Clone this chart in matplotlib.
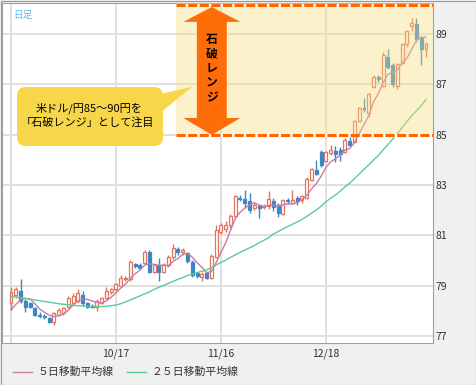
import matplotlib
matplotlib.use('Agg')
import matplotlib.pyplot as plt
import matplotlib.transforms as mtransforms
from matplotlib.patches import Rectangle, Polygon, FancyBboxPatch
from matplotlib.lines import Line2D
import numpy as np
import pandas as pd

plt.rcParams['font.family'] = ['Noto Sans CJK JP', 'DejaVu Sans']

# USD/JPY daily candles, 9/17 .. mid January
open_ = [78.30, 78.62, 78.80, 78.37, 78.30, 78.10, 77.84, 77.80, 77.72, 77.57,
         77.84, 77.90, 78.17, 78.30, 78.40, 78.63, 78.30, 78.18, 78.17, 78.32,
         78.50, 78.75, 78.85, 79.00, 79.25, 79.25, 79.85, 79.82, 79.90, 80.35,
         79.56, 79.82, 79.56, 79.82, 80.12, 80.45, 80.35, 80.30, 79.95, 79.50,
         79.35, 79.50, 79.30, 80.15, 81.15, 81.25, 81.40, 81.75, 82.50, 82.45,
         82.35, 82.10, 82.15, 82.13, 82.15, 82.35, 82.20, 81.85, 82.42, 82.30,
         82.50, 82.40, 82.50, 83.20, 83.60, 84.30, 83.95, 84.25, 84.35, 84.40,
         84.30, 84.75, 84.70, 85.55, 86.05, 85.85, 86.90, 87.30, 86.95, 88.10,
         87.75, 86.95, 87.85, 88.60, 89.30, 89.40, 88.85, 88.40]
high = [78.95, 78.95, 79.25, 78.45, 78.35, 78.15, 77.95, 77.88, 77.75, 77.95,
        78.10, 78.15, 78.60, 78.70, 78.85, 78.80, 78.35, 78.25, 78.45, 78.55,
        78.95, 78.90, 79.10, 79.43, 79.40, 80.00, 79.90, 79.90, 80.40, 80.40,
        79.85, 80.10, 79.90, 80.20, 80.65, 80.55, 80.50, 80.35, 80.00, 79.55,
        79.55, 79.55, 80.25, 81.40, 81.50, 81.55, 81.85, 82.60, 82.60, 82.80,
        82.70, 82.30, 82.20, 82.25, 82.75, 82.50, 82.30, 82.45, 82.50, 82.80,
        82.55, 82.60, 83.30, 83.68, 84.00, 84.40, 84.35, 84.60, 84.55, 84.50,
        84.85, 84.90, 85.60, 86.10, 86.45, 86.65, 87.35, 87.35, 88.30, 88.40,
        87.85, 87.85, 88.65, 89.15, 89.62, 89.62, 88.90, 88.70]
low = [78.05, 78.50, 78.30, 77.97, 78.10, 77.80, 77.70, 77.68, 77.50, 77.44,
       77.80, 77.85, 78.10, 78.20, 78.30, 78.20, 78.10, 78.10, 78.00, 78.25,
       78.45, 78.65, 78.80, 78.95, 79.20, 79.20, 79.70, 79.65, 79.85, 79.50,
       79.50, 79.20, 79.50, 79.75, 80.05, 80.20, 80.20, 79.90, 79.35, 79.30,
       79.20, 79.25, 79.25, 80.10, 81.05, 81.15, 81.30, 81.70, 82.35, 82.10,
       81.90, 82.00, 81.70, 82.05, 82.05, 81.95, 81.74, 81.80, 82.25, 82.25,
       82.20, 82.30, 82.45, 83.15, 83.40, 83.70, 83.90, 84.20, 83.90, 83.95,
       84.25, 84.55, 84.65, 85.50, 85.90, 85.70, 86.85, 87.10, 86.90, 87.60,
       86.90, 86.80, 87.80, 88.50, 89.10, 88.70, 87.75, 88.10]
close = [78.75, 78.85, 78.40, 78.17, 78.17, 77.84, 77.78, 77.76, 77.57, 77.90,
         78.03, 78.10, 78.50, 78.60, 78.72, 78.30, 78.17, 78.15, 78.37, 78.50,
         78.80, 78.85, 79.05, 79.30, 79.30, 79.93, 79.78, 79.72, 80.35, 79.56,
         79.82, 79.56, 79.82, 80.15, 80.50, 80.35, 80.42, 79.97, 79.43, 79.40,
         79.45, 79.32, 80.18, 81.20, 81.40, 81.40, 81.75, 82.55, 82.45, 82.27,
         82.00, 82.20, 82.10, 82.16, 82.45, 82.14, 81.90, 82.40, 82.37, 82.42,
         82.35, 82.55, 83.25, 83.65, 83.45, 83.80, 84.30, 84.40, 84.22, 84.22,
         84.80, 84.60, 85.55, 86.05, 86.00, 86.60, 87.30, 87.20, 88.15, 87.70,
         87.00, 87.80, 88.60, 89.10, 89.45, 88.80, 88.40, 88.60]
# closes just before the first visible candle (for the 5-day average)
pre_close = [77.75, 77.50, 77.85, 78.30]
# 25-day moving average as drawn
ma25 = [78.57, 78.55, 78.52, 78.49, 78.46, 78.43, 78.40, 78.37, 78.34, 78.31,
        78.28, 78.26, 78.24, 78.22, 78.20, 78.19, 78.18, 78.17, 78.17, 78.17,
        78.18, 78.20, 78.23, 78.28, 78.35, 78.43, 78.51, 78.59, 78.67, 78.75,
        78.85, 78.93, 79.01, 79.09, 79.17, 79.25, 79.32, 79.40, 79.46, 79.52,
        79.57, 79.62, 79.72, 79.82, 79.92, 80.01, 80.12, 80.22, 80.32, 80.41,
        80.50, 80.59, 80.70, 80.80, 80.90, 81.05, 81.15, 81.25, 81.35, 81.44,
        81.53, 81.63, 81.75, 81.88, 82.01, 82.15, 82.33, 82.47, 82.60, 82.75,
        82.92, 83.07, 83.25, 83.43, 83.62, 83.80, 83.99, 84.17, 84.39, 84.60,
        84.82, 85.04, 85.28, 85.52, 85.75, 85.95, 86.15, 86.40]

tick_pos = [0, 22, 44, 66]
tick_lab = ['', '10/17', '11/16', '12/18']
range_lo, range_hi = 85.0, 90.15

UP = '#e5735a'
DOWN = '#3f86c6'
MA5_C = '#c87ba6'
MA25_C = '#5ccc93'

W, H = 476, 385
pix = mtransforms.Affine2D().scale(1, -1).translate(0, H)  # image pixels (y down) -> display

fig = plt.figure(figsize=(W / 100, H / 100), dpi=100)
fig.patch.set_facecolor('#f0f0f0')
ax = fig.add_axes([2 / W, 42 / H, 431 / W, 340 / H])
ax.set_facecolor('white')

o = np.array(open_)
c = np.array(close)
hi = np.array(high)
lo = np.array(low)
x = np.arange(len(c))
up = c >= o
dn = ~up

ax.vlines(x[up], lo[up], hi[up], color=UP, lw=1, zorder=2)
ax.vlines(x[dn], lo[dn], hi[dn], color=DOWN, lw=1, zorder=2)
body = np.maximum(np.abs(c - o), 0.03)
ax.bar(x[up], body[up], bottom=np.minimum(o, c)[up], width=0.62,
       facecolor='white', edgecolor=UP, lw=0.9, zorder=3)
ax.bar(x[dn], body[dn], bottom=np.minimum(o, c)[dn], width=0.62,
       facecolor=DOWN, edgecolor=DOWN, lw=0.9, zorder=3)

ma5 = pd.Series(pre_close + close).rolling(5).mean().values[len(pre_close):]
ax.plot(x, ma5, color=MA5_C, lw=1, zorder=4)
ax.plot(x, ma25, color=MA25_C, lw=1, zorder=4)

x0, x1 = -1.89, 88.47
ax.set_xlim(x0, x1)
ax.set_ylim(76.72, 90.23)
ax.set_yticks(range(77, 90, 2))
ax.set_xticks(tick_pos)
ax.set_xticklabels(tick_lab)
ax.yaxis.tick_right()
ax.grid(color='#e0e0e0', lw=1.4)
ax.set_axisbelow(True)
ax.tick_params(length=0, labelsize=7.5, colors='#333333')
ax.tick_params(axis='y', pad=2)
ax.tick_params(axis='x', pad=4)
for s in ax.spines.values():
    s.set_color('#a0a0a0')
    s.set_linewidth(0.8)

# highlighted range
bx = 34.6
ax.add_patch(Rectangle((bx, range_lo), x1 - bx, range_hi - range_lo + 0.2,
                       facecolor=(245 / 255, 224 / 255, 127 / 255), alpha=0.4,
                       edgecolor='none', zorder=5))
for yv in (range_lo, range_hi):
    ax.plot([bx, x1], [yv, yv], color='white', lw=2.2, solid_capstyle='butt', zorder=6)
    ax.plot([bx, x1], [yv, yv], color='#ff6600', lw=2.2, ls=(0, (3, 0.8)),
            dash_capstyle='butt', zorder=6)

# double arrow
cx, hw, sw = 42.1, 5.97, 3.14
top, hb_t, hb_b, bot = 90.07, 89.48, 85.66, 84.99
ax.add_patch(Polygon([(cx, top), (cx + hw, hb_t), (cx + sw, hb_t), (cx + sw, hb_b),
                      (cx + hw, hb_b), (cx, bot), (cx - hw, hb_b), (cx - sw, hb_b),
                      (cx - sw, hb_t), (cx - hw, hb_t)],
                     closed=True, facecolor='#ff6c0a', edgecolor='none', zorder=7))
ax.text(cx, 87.62, '\n'.join('石破レンジ'), ha='center', va='center', fontsize=8.5,
        fontweight='bold', linespacing=1.15, color='black', zorder=8)

# callout (image pixel coordinates)
ax.add_patch(FancyBboxPatch((17, 87), 146, 59, boxstyle='round,pad=0,rounding_size=9',
                            transform=pix, facecolor='#f7d64a', edgecolor='none',
                            zorder=7, clip_on=False))
ax.add_patch(Polygon([(155, 95), (155, 117), (192, 87)], closed=True,
                     transform=pix, facecolor='#f7d64a', edgecolor='none',
                     zorder=7, clip_on=False))
ax.text(89, 108, '米ドル/円85～90円を', transform=pix, ha='center', va='center',
        fontsize=8, color='black', zorder=8)
ax.text(87, 123, '「石破レンジ」として注目', transform=pix, ha='center', va='center',
        fontsize=8, color='black', zorder=8)

fig.text(13, 15, '日足', transform=pix, ha='left', va='center', fontsize=7, color='#5bbcf0')

# legend
fig.add_artist(Line2D([13, 32], [372, 372], transform=pix, color=MA5_C, lw=1))
fig.text(38, 372, '５日移動平均線', transform=pix, ha='left', va='center',
         fontsize=7.8, color='#333333')
fig.add_artist(Line2D([127, 146], [372, 372], transform=pix, color=MA25_C, lw=1))
fig.text(152, 372, '２５日移動平均線', transform=pix, ha='left', va='center',
         fontsize=7.8, color='#333333')

fig.add_artist(Rectangle((0.5, 0.5), W - 1, H - 1, transform=pix, fill=False,
                         edgecolor='#9a9a9a', lw=0.8))

fig.savefig('out.png', dpi=100, facecolor=fig.get_facecolor())
